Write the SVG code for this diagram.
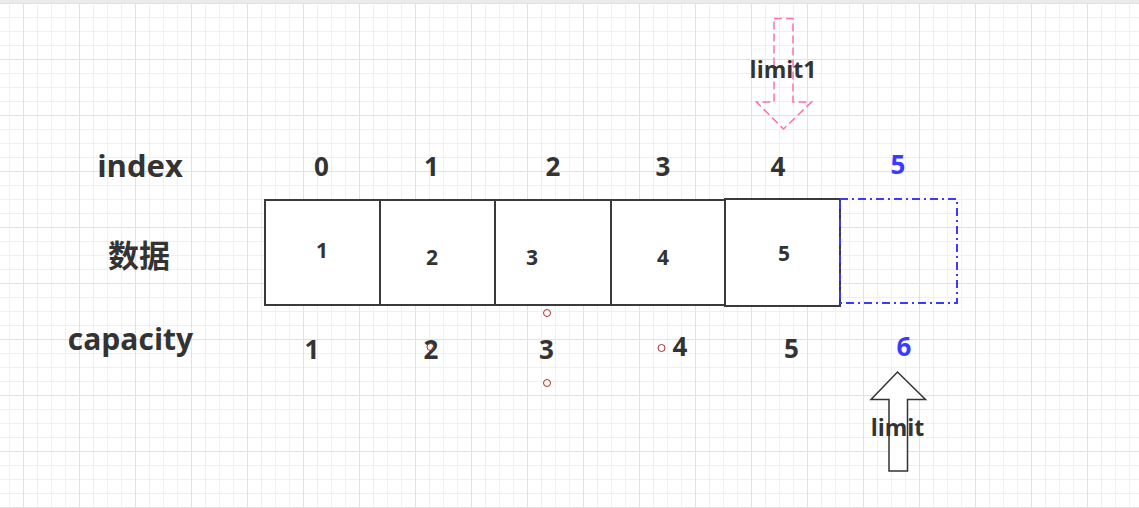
<svg xmlns="http://www.w3.org/2000/svg" width="1139" height="508" viewBox="0 0 1139 508">
<defs>
<pattern id="grid" patternUnits="userSpaceOnUse" x="23" y="3" width="56" height="56">
<path d="M14.5,0V56M28.5,0V56M42.5,0V56M0,14.5H56M0,28.5H56M0,42.5H56" stroke="#f0f0f0" stroke-width="1" fill="none"/>
<path d="M0.5,0V56M0,0.5H56" stroke="#e2e2e2" stroke-width="1" fill="none"/>
</pattern>
</defs>
<style>
.t{font-family:"Open Sans","Noto Sans CJK SC",sans-serif;font-weight:bold;fill:#333333;text-anchor:middle}
.big{font-size:31px}
.cap{font-size:30px}
.d{font-size:26px}
.s{font-size:21px}
.lbl{font-size:23px}
.blue{fill:#3b3bff}
.cell{fill:#ffffff;stroke:#3a3a3a;stroke-width:2}
.dot{fill:none;stroke:#a83232;stroke-width:1}
</style>
<rect x="0" y="0" width="1139" height="508" fill="#ffffff"/>
<rect x="0" y="0" width="1139" height="508" fill="url(#grid)"/>
<rect x="0" y="0" width="1139" height="3" fill="#ebebeb"/>

<g id="row-labels">
<text class="t big" x="140" y="177">index</text>
<text class="t big" x="139" y="267">数据</text>
<text class="t cap" x="130.5" y="350">capacity</text>
</g>

<g id="index-values">
<text class="t d" x="321.5" y="176">0</text>
<text class="t d" x="431.5" y="176">1</text>
<text class="t d" x="553" y="176">2</text>
<text class="t d" x="663" y="176">3</text>
<text class="t d" x="778" y="176">4</text>
<text class="t d blue" x="898" y="174">5</text>
</g>

<g id="cell-1"><rect class="cell" x="265" y="200" width="115" height="105"/><text class="t s" x="322" y="258">1</text></g>
<g id="cell-2"><rect class="cell" x="380" y="200" width="115" height="105"/><text class="t s" x="432" y="265">2</text></g>
<g id="cell-3"><rect class="cell" x="495" y="200" width="116" height="105"/><text class="t s" x="532" y="265">3</text></g>
<g id="cell-4"><rect class="cell" x="611" y="200" width="114" height="105"/><text class="t s" x="663" y="265">4</text></g>
<g id="cell-5"><rect class="cell" x="725" y="199" width="115" height="107"/><text class="t s" x="784" y="261">5</text></g>
<g id="cell-6"><rect x="840" y="199" width="117" height="104" fill="none" stroke="#3b3bff" stroke-width="2" stroke-dasharray="8,4,2,4"/></g>

<g id="capacity-values">
<text class="t d" x="312" y="359">1</text>
<text class="t d" x="431" y="359">2</text>
<text class="t d" x="546.5" y="359">3</text>
<text class="t d" x="680" y="356">4</text>
<text class="t d" x="791.5" y="358">5</text>
<text class="t d blue" x="904" y="356">6</text>
</g>

<g id="handles">
<circle class="dot" cx="547" cy="313" r="3.5"/>
<circle class="dot" cx="547" cy="383" r="3.5"/>
<circle class="dot" cx="430.5" cy="347" r="3.5"/>
<circle class="dot" cx="661.5" cy="348" r="3.5"/>
</g>

<g id="limit1">
<path d="M774,18.5H793V102H811.5L783.5,129L756.5,102H774Z" fill="none" stroke="#ff6eb0" stroke-width="1.5" stroke-dasharray="8,4"/>
<text class="t lbl" x="783" y="78">limit1</text>
</g>

<g id="limit">
<path d="M889,471V399.5H871L897.5,372L925.5,399.5H907.5V471Z" fill="#ffffff" stroke="#333333" stroke-width="1.5"/>
<text class="t lbl" x="897.5" y="436">limit</text>
</g>
</svg>
